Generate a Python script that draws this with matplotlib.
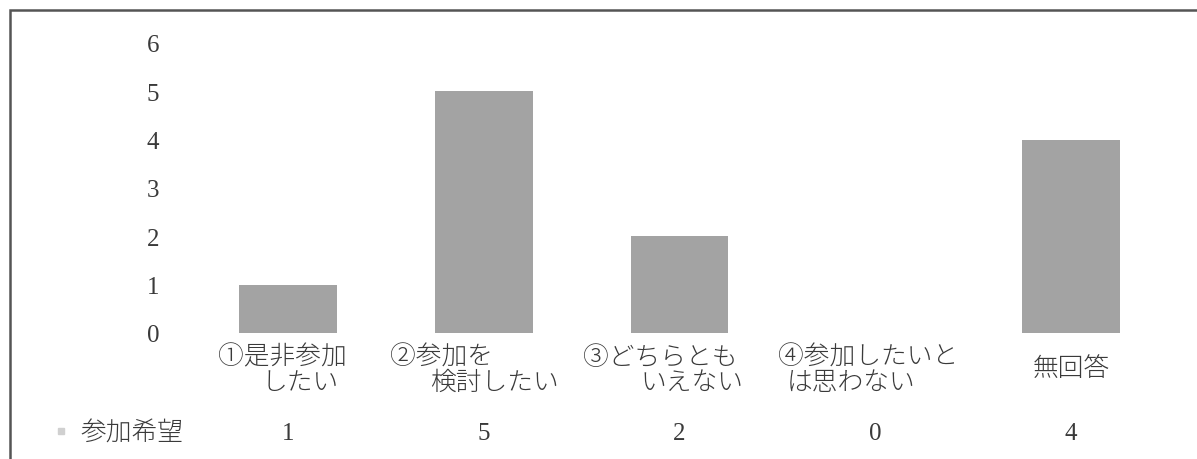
import matplotlib
matplotlib.use("Agg")
import matplotlib.pyplot as plt
from matplotlib.patches import Rectangle

# data
line1 = ["①是非参加", "②参加を", "③どちらとも", "④参加したいと", "無回答"]
line2 = ["したい", "検討したい", "いえない", "は思わない", ""]
values = [1, 5, 2, 0, 4]
series_name = "参加希望"

cjk = ["Noto Sans CJK JP", "DejaVu Sans"]
serif = ["Liberation Serif", "DejaVu Serif"]
txt = "#3a3a3a"

fig = plt.figure(figsize=(11.97, 4.6), dpi=100)
ax = fig.add_axes([190 / 1197, 1 - 334 / 460, (1169 - 190) / 1197, (334 - 44) / 460])

x = list(range(len(values)))
ax.bar(x, values, width=0.5, color="#a3a3a3")
ax.set_xlim(-0.5, len(values) - 0.5)
ax.set_ylim(0, 6)
ax.set_yticks(range(7))
ax.set_yticklabels([str(i) for i in range(7)], family=serif, fontsize=18, color=txt)
ax.tick_params(axis="y", length=0, pad=22)
ax.set_xticks([])
for s in ax.spines.values():
    s.set_visible(False)

# category labels (two lines, offsets in px from the category centre)
off1 = [-70, -94, -96, -97]
off2 = [-26, -54, -39, -89]
fs = 18.5
for i in range(len(values)):
    if line2[i]:
        ax.annotate(line1[i], (i, 0), xytext=(off1[i] * 0.72, -17), textcoords="offset points",
                    ha="left", va="center", family=cjk, fontsize=fs, color=txt,
                    fontweight="light", annotation_clip=False)
        ax.annotate(line2[i], (i, 0), xytext=(off2[i] * 0.72, -35), textcoords="offset points",
                    ha="left", va="center", family=cjk, fontsize=fs, color=txt,
                    fontweight="light", annotation_clip=False)
    else:
        ax.annotate(line1[i], (i, 0), xytext=(0, -25), textcoords="offset points",
                    ha="center", va="center", family=cjk, fontsize=fs, color=txt,
                    fontweight="light", annotation_clip=False)

# data table row
for i, v in enumerate(values):
    ax.annotate(str(v), (i, 0), xytext=(0, -72), textcoords="offset points",
                ha="center", va="center", family=serif, fontsize=18, color=txt,
                annotation_clip=False)
fig.text(80 / 1197, 1 - 433 / 460, series_name, ha="left", va="center",
         family=cjk, fontsize=fs, color=txt, fontweight="light")
fig.patches.append(Rectangle((58 / 1197, 1 - 435 / 460), 6 / 1197, 6 / 460,
                             transform=fig.transFigure, color="#d0d0d0"))

# outer frame
fig.patches.append(Rectangle((10 / 1197, -0.1), 1.2, 1 - 11 / 460 + 0.1,
                             transform=fig.transFigure, fill=False,
                             edgecolor="#555555", linewidth=1.8))

fig.savefig("out.png", dpi=100)
